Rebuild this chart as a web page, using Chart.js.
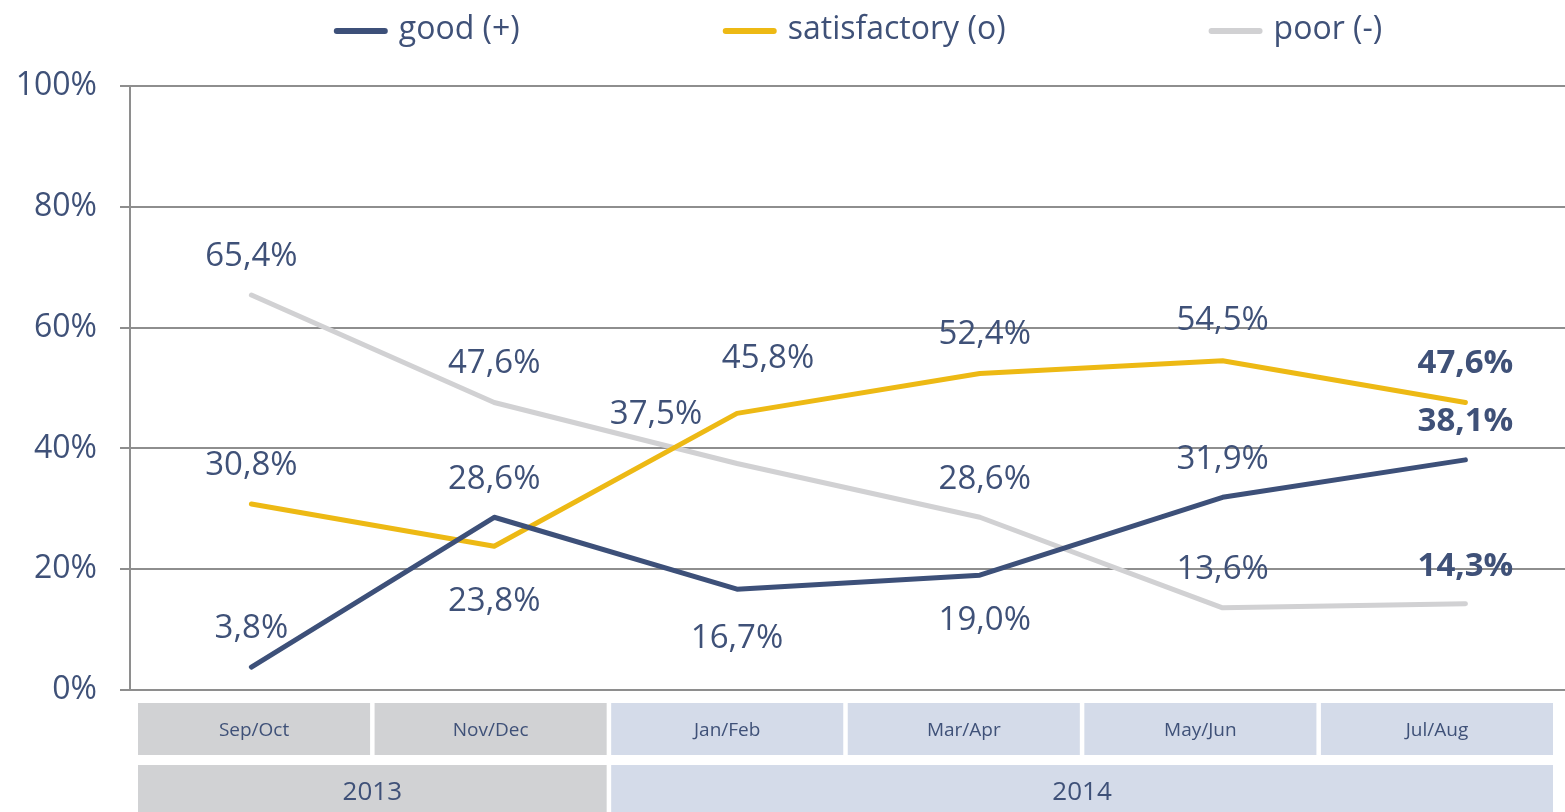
<!DOCTYPE html>
<html>
<head>
<meta charset="utf-8">
<script src="https://cdn.jsdelivr.net/npm/chart.js@4.4.1/dist/chart.umd.min.js"></script>
<style>
html,body{margin:0;padding:0;background:#fff;}
#wrap{width:1565px;height:812px;position:relative;}
</style>
</head>
<body>
<div id="wrap"><canvas id="c"></canvas></div>
<script>
// ---- data ----
const periods = ['Sep/Oct','Nov/Dec','Jan/Feb','Mar/Apr','May/Jun','Jul/Aug'];
const years = ['2013','2014'];
const yearSpans = [2,4];
const seriesNames = ['good (+)','satisfactory (o)','poor (-)'];
const good = [3.8,28.6,16.7,19.0,31.9,38.1];
const satisfactory = [30.8,23.8,45.8,52.4,54.5,47.6];
const poor = [65.4,47.6,37.5,28.6,13.6,14.3];
const yTicks = [0,20,40,60,80,100];

// ---- styles ----
const NAVY_TEXT = '#3F5178';
const colors = ['#3D5079','#EDB914','#D1D1D3'];
const FONT = "'Open Sans', 'DejaVu Sans', sans-serif";
// label offsets [dx, dy] relative to the point (label styling only)
const labelOffsets = [
  [[0,-38],[0,-38],[0,49],[5,45],[0,-38],[0,-38]],
  [[0,-38],[0,55],[31,-55],[5,-39],[0,-40],[0,-39]],
  [[0,-38],[0,-39],[-81,-49],[5,-38],[0,-38],[0,-37]]
];
const boldLast = true;

const seriesValues = [good, satisfactory, poor];

const datasets = seriesValues.map((vals, s) => ({
  label: seriesNames[s],
  data: vals.map((v,i)=>({x:i,y:v})),
  borderColor: colors[s],
  backgroundColor: colors[s],
  borderWidth: 5,
  borderCapStyle: 'round',
  borderJoinStyle: 'round',
  pointRadius: 0,
  pointHoverRadius: 0,
  tension: 0,
  fill: false
}));

const AXIS_LEFT = 130;
const SPACING = 242.8;

const extrasPlugin = {
  id: 'extras',
  afterDatasetsDraw(chart) {
    const ctx = chart.ctx;
    const xs = chart.scales.x, ys = chart.scales.y;
    ctx.save();
    ctx.textAlign = 'center';
    ctx.textBaseline = 'middle';
    ctx.fillStyle = NAVY_TEXT;
    seriesValues.forEach((vals, s) => {
      vals.forEach((v, i) => {
        const px = xs.getPixelForValue(i), py = ys.getPixelForValue(v);
        const off = labelOffsets[s][i];
        const bold = boldLast && i === vals.length - 1;
        ctx.font = (bold ? 'bold ' : '') + '33px ' + FONT;
        ctx.fillText(v.toFixed(1).replace('.', ',') + '%', px + off[0], py + off[1]);
      });
    });
    ctx.restore();
  },
  afterDraw(chart) {
    const ctx = chart.ctx;
    const ca = chart.chartArea;
    ctx.save();
    // legend
    ctx.font = '32px ' + FONT;
    ctx.textBaseline = 'middle';
    ctx.textAlign = 'left';
    const sw = 54, tg = 11, gap = 203;
    const widths = seriesNames.map(n => sw + tg + ctx.measureText(n).width);
    const total = widths.reduce((a,b)=>a+b,0) + gap*(seriesNames.length-1);
    let x = 858 - total/2;
    const ly = 30;
    seriesNames.forEach((n, s) => {
      ctx.strokeStyle = colors[s];
      ctx.lineWidth = 6;
      ctx.lineCap = 'round';
      ctx.beginPath();
      ctx.moveTo(x + 3, ly + 1);
      ctx.lineTo(x + sw - 3, ly + 1);
      ctx.stroke();
      ctx.fillStyle = NAVY_TEXT;
      ctx.fillText(n, x + sw + tg, ly);
      x += widths[s] + gap;
    });
    // category table
    const start = ca.left + 8, end = ca.right - 12, cg = 4.5;
    const n = periods.length;
    const w = (end - start - cg*(n-1)) / n;
    const yearColors = ['#D1D2D4','#D4DBE9'];
    let cellYear = [];
    yearSpans.forEach((sp, k) => { for (let j=0;j<sp;j++) cellYear.push(k); });
    ctx.textAlign = 'center';
    periods.forEach((p, i) => {
      const cx = start + i*(w+cg);
      ctx.fillStyle = yearColors[cellYear[i]];
      ctx.fillRect(cx, 703, w, 52);
      ctx.fillStyle = NAVY_TEXT;
      ctx.font = '19px ' + FONT;
      ctx.fillText(p, cx + w/2, 731);
    });
    let idx = 0;
    years.forEach((yr, k) => {
      const x0 = start + idx*(w+cg);
      const x1 = start + (idx + yearSpans[k] - 1)*(w+cg) + w;
      ctx.fillStyle = yearColors[k];
      ctx.fillRect(x0, 765, x1 - x0, 60);
      ctx.fillStyle = NAVY_TEXT;
      ctx.font = '26px ' + FONT;
      ctx.fillText(yr, (x0+x1)/2, 793);
      idx += yearSpans[k];
    });
    ctx.restore();
  }
};

new Chart(document.getElementById('c'), {
  type: 'line',
  data: { datasets },
  options: {
    responsive: true,
    maintainAspectRatio: false,
    devicePixelRatio: 1,
    animation: false,
    layout: { padding: { top: 86, bottom: 122, left: 0, right: 0 } },
    plugins: { legend: { display: false }, tooltip: { enabled: false }, title: { display: false } },
    scales: {
      x: {
        type: 'linear',
        display: false,
        min: -0.5,
        max: -0.5 + (1565 - AXIS_LEFT) / SPACING
      },
      y: {
        min: 0, max: 100,
        afterBuildTicks(scale) { scale.ticks = yTicks.map(v => ({value: v})); },
        afterFit(scale) { scale.width = AXIS_LEFT; },
        ticks: {
          callback: v => v + '%',
          color: NAVY_TEXT,
          font: { family: FONT, size: 32 },
          padding: 23
        },
        grid: { color: '#8E8E8E', lineWidth: 2, tickLength: 10, drawTicks: true },
        border: { display: true, color: '#8E8E8E', width: 2 }
      }
    }
  },
  plugins: [extrasPlugin]
});
</script>
</body>
</html>
